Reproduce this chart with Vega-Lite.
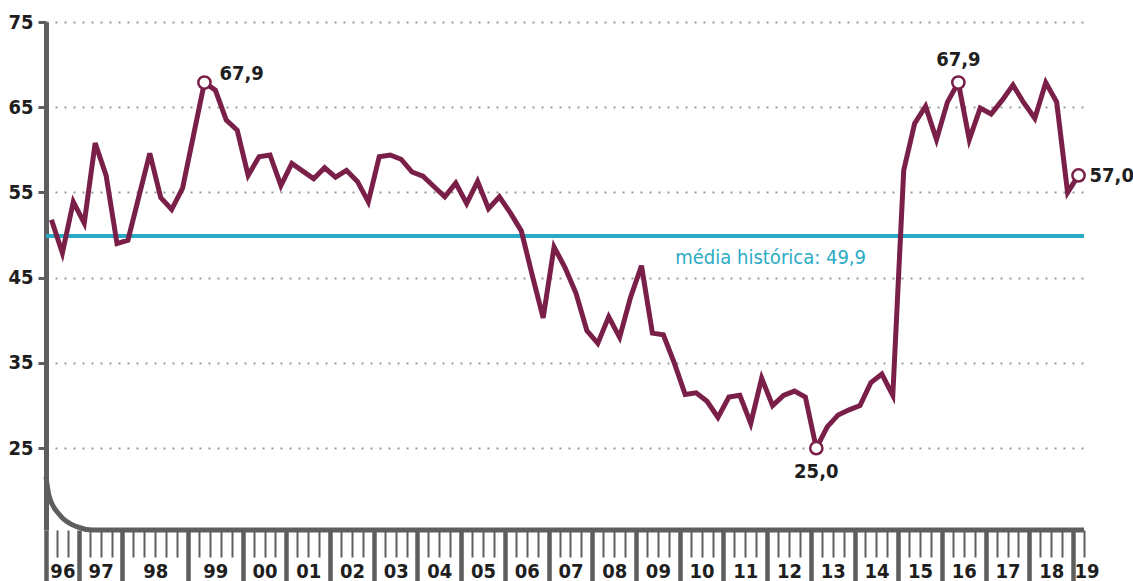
{
  "$schema": "https://vega.github.io/schema/vega-lite/v6.json",
  "width": 1038,
  "height": 508,
  "autosize": {"type": "none"},
  "padding": {"left": 46, "top": 22, "right": 49, "bottom": 51},
  "background": "white",
  "config": {
    "view": {"stroke": null},
    "font": "DejaVu Sans Condensed, Roboto, sans-serif",
    "locale": {"number": {"decimal": ",", "thousands": ".", "grouping": [3], "currency": ["R$ ", ""]}}
  },
  "datasets": {
    "pesquisas": [
      {"n": 1, "v": 51.8}, {"n": 2, "v": 47.9}, {"n": 3, "v": 53.9}, {"n": 4, "v": 51.4}, {"n": 5, "v": 60.8},
      {"n": 6, "v": 57.0}, {"n": 7, "v": 49.0}, {"n": 8, "v": 49.4}, {"n": 9, "v": 54.5}, {"n": 10, "v": 59.6},
      {"n": 11, "v": 54.4}, {"n": 12, "v": 53.0}, {"n": 13, "v": 55.5}, {"n": 14, "v": 61.7}, {"n": 15, "v": 67.9},
      {"n": 16, "v": 67.0}, {"n": 17, "v": 63.5}, {"n": 18, "v": 62.3}, {"n": 19, "v": 57.0}, {"n": 20, "v": 59.2},
      {"n": 21, "v": 59.4}, {"n": 22, "v": 55.8}, {"n": 23, "v": 58.4}, {"n": 24, "v": 57.5}, {"n": 25, "v": 56.6},
      {"n": 26, "v": 57.9}, {"n": 27, "v": 56.8}, {"n": 28, "v": 57.6}, {"n": 29, "v": 56.3}, {"n": 30, "v": 53.9},
      {"n": 31, "v": 59.2}, {"n": 32, "v": 59.4}, {"n": 33, "v": 58.9}, {"n": 34, "v": 57.4}, {"n": 35, "v": 56.9},
      {"n": 36, "v": 55.7}, {"n": 37, "v": 54.5}, {"n": 38, "v": 56.1}, {"n": 39, "v": 53.7}, {"n": 40, "v": 56.3},
      {"n": 41, "v": 53.1}, {"n": 42, "v": 54.5}, {"n": 43, "v": 52.6}, {"n": 44, "v": 50.5}, {"n": 45, "v": 45.3},
      {"n": 46, "v": 40.3}, {"n": 47, "v": 48.6}, {"n": 48, "v": 46.2}, {"n": 49, "v": 43.2}, {"n": 50, "v": 38.8},
      {"n": 51, "v": 37.3}, {"n": 52, "v": 40.4}, {"n": 53, "v": 38.0}, {"n": 54, "v": 42.7}, {"n": 55, "v": 46.4},
      {"n": 56, "v": 38.5}, {"n": 57, "v": 38.3}, {"n": 58, "v": 35.0}, {"n": 59, "v": 31.3}, {"n": 60, "v": 31.5},
      {"n": 61, "v": 30.5}, {"n": 62, "v": 28.6}, {"n": 63, "v": 31.0}, {"n": 64, "v": 31.2}, {"n": 65, "v": 27.9},
      {"n": 66, "v": 33.2}, {"n": 67, "v": 30.0}, {"n": 68, "v": 31.2}, {"n": 69, "v": 31.7}, {"n": 70, "v": 31.0},
      {"n": 71, "v": 25.0}, {"n": 72, "v": 27.5}, {"n": 73, "v": 28.9}, {"n": 74, "v": 29.5}, {"n": 75, "v": 30.0},
      {"n": 76, "v": 32.7}, {"n": 77, "v": 33.7}, {"n": 78, "v": 31.2}, {"n": 79, "v": 57.6}, {"n": 80, "v": 63.1},
      {"n": 81, "v": 65.1}, {"n": 82, "v": 61.2}, {"n": 83, "v": 65.6}, {"n": 84, "v": 67.9}, {"n": 85, "v": 61.2},
      {"n": 86, "v": 64.9}, {"n": 87, "v": 64.2}, {"n": 88, "v": 65.8}, {"n": 89, "v": 67.6}, {"n": 90, "v": 65.5},
      {"n": 91, "v": 63.7}, {"n": 92, "v": 67.9}, {"n": 93, "v": 65.6}, {"n": 94, "v": 55.0}, {"n": 95, "v": 57.0}
    ],
    "media": [{"v": 49.9, "rotulo": "média histórica: 49,9"}],
    "moldura": [
      {"n": 0.5, "v": 21.62}, {"n": 0.8, "v": 19.3}, {"n": 1.8, "v": 17.1}, {"n": 3.3, "v": 15.8},
      {"n": 4.8, "v": 15.4}, {"n": 95.5, "v": 15.4}
    ]
  },
  "layer": [
    {
      "data": {"name": "pesquisas"},
      "mark": {"type": "line", "opacity": 0},
      "encoding": {
        "x": {
          "field": "n", "type": "quantitative",
          "scale": {"domain": [0.5, 95.5], "nice": false, "zero": false},
          "axis": {
            "title": null,
            "domain": false,
            "grid": false,
            "tickCount": 1000,
            "values": [0.5,1.5,2.5,3.5,4.5,5.5,6.5,7.5,8.5,9.5,10.5,11.5,12.5,13.5,14.5,15.5,16.5,17.5,18.5,19.5,20.5,21.5,22.5,23.5,24.5,25.5,26.5,27.5,28.5,29.5,30.5,31.5,32.5,33.5,34.5,35.5,36.5,37.5,38.5,39.5,40.5,41.5,42.5,43.5,44.5,45.5,46.5,47.5,48.5,49.5,50.5,51.5,52.5,53.5,54.5,55.5,56.5,57.5,58.5,59.5,60.5,61.5,62.5,63.5,64.5,65.5,66.5,67.5,68.5,69.5,70.5,71.5,72.5,73.5,74.5,75.5,76.5,77.5,78.5,79.5,80.5,81.5,82.5,83.5,84.5,85.5,86.5,87.5,88.5,89.5,90.5,91.5,92.5,93.5,94.5,95.5,2,16,95],
            "tickColor": "#5e5e5e",
            "tickOpacity": {"condition": {"test": "datum.value % 1 == 0.5", "value": 1}, "value": 0},
            "tickSize": {"condition": {"test": "indexof([0.5,3.5,7.5,13.5], datum.value) >= 0 || (datum.value >= 18.5 && datum.value <= 94.5 && (datum.value - 18.5) % 4 == 0)", "value": 56}, "value": 27},
            "tickWidth": {"condition": {"test": "indexof([0.5,3.5,7.5,13.5], datum.value) >= 0 || (datum.value >= 18.5 && datum.value <= 94.5 && (datum.value - 18.5) % 4 == 0)", "value": 4.5}, "value": 2},
            "labelExpr": "indexof([2,5.5,10.5,16,20.5,24.5,28.5,32.5,36.5,40.5,44.5,48.5,52.5,56.5,60.5,64.5,68.5,72.5,76.5,80.5,84.5,88.5,92.5,95], datum.value) >= 0 ? ['96','97','98','99','00','01','02','03','04','05','06','07','08','09','10','11','12','13','14','15','16','17','18','19'][indexof([2,5.5,10.5,16,20.5,24.5,28.5,32.5,36.5,40.5,44.5,48.5,52.5,56.5,60.5,64.5,68.5,72.5,76.5,80.5,84.5,88.5,92.5,95], datum.value)] : ''",
            "labelOffset": {"condition": {"test": "datum.value == 95", "value": 8}, "value": 0},
            "labelFont": "DejaVu Sans Condensed, Roboto, sans-serif",
            "labelFontSize": 20,
            "labelFontWeight": "bold",
            "labelColor": "#1e1e1e",
            "labelPadding": 4,
            "labelBaseline": "top",
            "labelOverlap": false,
            "labelFlush": false,
            "labelBound": false
          }
        },
        "y": {
          "field": "v", "type": "quantitative",
          "scale": {"domain": [15.4, 75], "nice": false, "zero": false},
          "axis": {
            "title": null,
            "values": [25, 35, 45, 55, 65, 75],
            "domainColor": "#5e5e5e",
            "domainWidth": 5,
            "tickColor": "#5e5e5e",
            "tickWidth": 3,
            "tickSize": 8,
            "labelFont": "DejaVu Sans Condensed, Roboto, sans-serif",
            "labelFontSize": 20,
            "labelFontWeight": "bold",
            "labelColor": "#1e1e1e",
            "labelPadding": 5,
            "labelFlush": false,
            "labelBound": false,
            "grid": true,
            "gridColor": "#9a9a9a",
            "gridDash": [2, 7],
            "gridWidth": 2
          }
        }
      }
    },
    {
      "data": {"name": "media"},
      "mark": {"type": "rule", "color": "#2aabc5", "strokeWidth": 4},
      "encoding": {"y": {"field": "v", "type": "quantitative"}}
    },
    {
      "data": {"name": "media"},
      "mark": {"type": "text", "align": "right", "baseline": "alphabetic", "dy": 28, "color": "#2aabc5", "fontSize": 20, "font": "DejaVu Sans Condensed, Roboto, sans-serif"},
      "encoding": {
        "x": {"datum": 75.55},
        "y": {"field": "v", "type": "quantitative"},
        "text": {"field": "rotulo"}
      }
    },
    {
      "data": {"name": "moldura"},
      "mark": {"type": "line", "interpolate": "monotone", "color": "#5e5e5e", "strokeWidth": 5},
      "encoding": {
        "x": {"field": "n", "type": "quantitative"},
        "y": {"field": "v", "type": "quantitative"}
      }
    },
    {
      "data": {"name": "pesquisas"},
      "mark": {"type": "line", "color": "#7a1f48", "strokeWidth": 5},
      "encoding": {
        "x": {"field": "n", "type": "quantitative"},
        "y": {"field": "v", "type": "quantitative"}
      }
    },
    {
      "data": {"name": "pesquisas"},
      "transform": [{"filter": "indexof([15, 71, 84, 95], datum.n) >= 0"}],
      "mark": {"type": "point", "filled": true, "fill": "white", "stroke": "#7a1f48", "strokeWidth": 2.5, "size": 150, "opacity": 1},
      "encoding": {
        "x": {"field": "n", "type": "quantitative"},
        "y": {"field": "v", "type": "quantitative"}
      }
    },
    {
      "data": {"name": "pesquisas"},
      "transform": [{"filter": "datum.n == 15"}],
      "mark": {"type": "text", "align": "left", "baseline": "middle", "dx": 15, "dy": -9, "fontSize": 20, "fontWeight": "bold", "color": "#1e1e1e", "font": "DejaVu Sans Condensed, Roboto, sans-serif"},
      "encoding": {
        "x": {"field": "n", "type": "quantitative"},
        "y": {"field": "v", "type": "quantitative"},
        "text": {"field": "v", "type": "quantitative", "format": ".1f"}
      }
    },
    {
      "data": {"name": "pesquisas"},
      "transform": [{"filter": "datum.n == 84"}],
      "mark": {"type": "text", "align": "center", "baseline": "middle", "dy": -23, "fontSize": 20, "fontWeight": "bold", "color": "#1e1e1e", "font": "DejaVu Sans Condensed, Roboto, sans-serif"},
      "encoding": {
        "x": {"field": "n", "type": "quantitative"},
        "y": {"field": "v", "type": "quantitative"},
        "text": {"field": "v", "type": "quantitative", "format": ".1f"}
      }
    },
    {
      "data": {"name": "pesquisas"},
      "transform": [{"filter": "datum.n == 71"}],
      "mark": {"type": "text", "align": "center", "baseline": "middle", "dy": 24, "fontSize": 20, "fontWeight": "bold", "color": "#1e1e1e", "font": "DejaVu Sans Condensed, Roboto, sans-serif"},
      "encoding": {
        "x": {"field": "n", "type": "quantitative"},
        "y": {"field": "v", "type": "quantitative"},
        "text": {"field": "v", "type": "quantitative", "format": ".1f"}
      }
    },
    {
      "data": {"name": "pesquisas"},
      "transform": [{"filter": "datum.n == 95"}],
      "mark": {"type": "text", "align": "left", "baseline": "middle", "dx": 11, "dy": 1, "fontSize": 20, "fontWeight": "bold", "color": "#1e1e1e", "font": "DejaVu Sans Condensed, Roboto, sans-serif"},
      "encoding": {
        "x": {"field": "n", "type": "quantitative"},
        "y": {"field": "v", "type": "quantitative"},
        "text": {"field": "v", "type": "quantitative", "format": ".1f"}
      }
    }
  ]
}
